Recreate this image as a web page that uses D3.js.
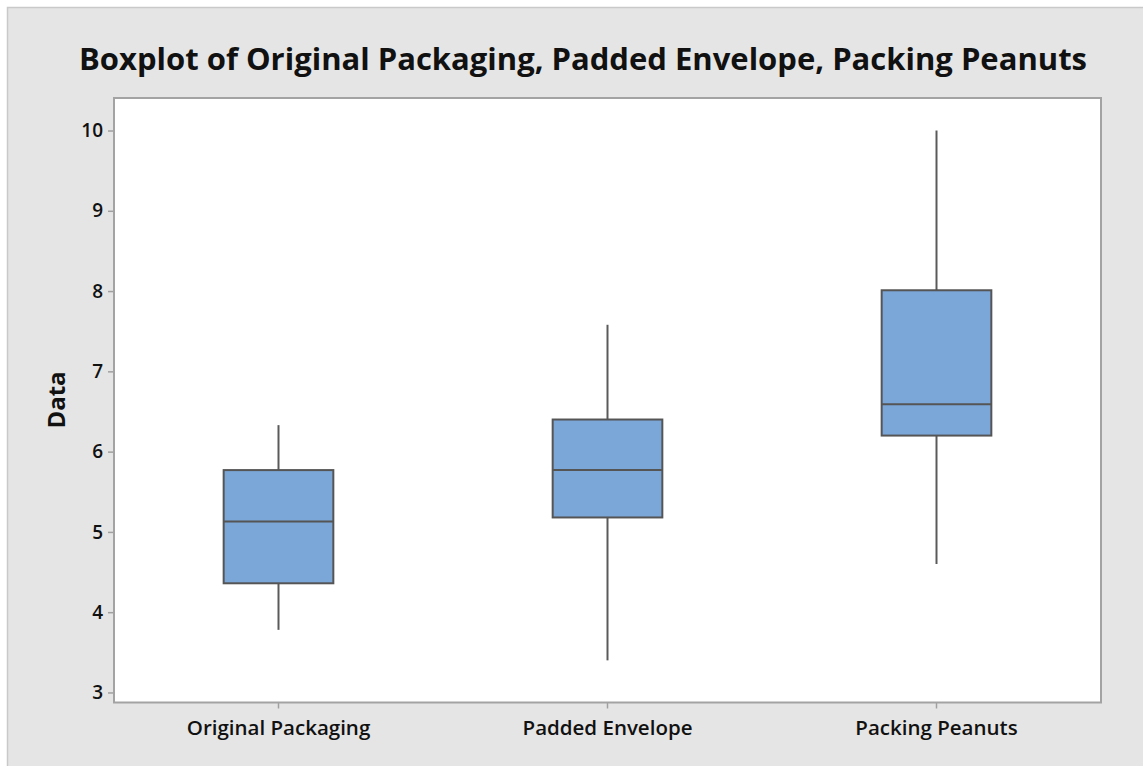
<!DOCTYPE html>
<html><head><meta charset="utf-8">
<script src="https://cdn.jsdelivr.net/npm/d3@7"></script>
<style>
html,body{margin:0;padding:0;background:#fff;}
text{font-family:"Open Sans","Noto Sans",sans-serif;}
</style></head>
<body><svg id="c" width="1143" height="766"></svg>
<script>
const categories = ["Original Packaging", "Padded Envelope", "Packing Peanuts"];
const whiskerLow  = [3.78, 3.40, 4.60];
const q1Values    = [4.36, 5.18, 6.20];
const medians     = [5.13, 5.77, 6.59];
const q3Values    = [5.77, 6.40, 8.01];
const whiskerHigh = [6.33, 7.58, 10.0];
const yTicks      = [3, 4, 5, 6, 7, 8, 9, 10];
const titleText   = "Boxplot of Original Packaging, Padded Envelope, Packing Peanuts";
const yLabel      = "Data";

const data = categories.map((c,i)=>({cat:c, lo:whiskerLow[i], q1:q1Values[i], med:medians[i], q3:q3Values[i], hi:whiskerHigh[i]}));

const svg = d3.select("#c");
// outer frame
svg.append("rect").attr("x",7.5).attr("y",7.5).attr("width",1143).attr("height",766)
  .attr("fill","#e5e5e5").attr("stroke","#c9c9c9").attr("stroke-width",1.5);

const L=114, R=1101, T=98, B=702.5;
svg.append("rect").attr("x",L).attr("y",T).attr("width",R-L).attr("height",B-T).attr("fill","#fff");

const x = d3.scaleBand().domain(categories).range([L,R]);
const y = d3.scaleLinear().domain([2.875, 10.405]).range([B,T]);

const yAxis = svg.append("g").attr("transform",`translate(${L},0)`)
  .call(d3.axisLeft(y).tickValues(yTicks).tickFormat(d3.format("d")).tickSize(6).tickPadding(5));
yAxis.select(".domain").remove();
yAxis.selectAll(".tick line").attr("stroke","#a0a0a0").attr("stroke-width",1.5);
yAxis.selectAll(".tick text").attr("fill","#111").style("font-size","19px").style("font-weight","600")
  .style("font-family","'Open Sans',sans-serif");

const xAxis = svg.append("g").attr("transform",`translate(0,${B})`)
  .call(d3.axisBottom(x).tickSize(6).tickPadding(12));
xAxis.select(".domain").remove();
xAxis.selectAll(".tick line").attr("stroke","#a0a0a0").attr("stroke-width",1.5);
xAxis.selectAll(".tick text").attr("fill","#111").style("font-size","20.5px").style("font-weight","600")
  .style("font-family","'Open Sans',sans-serif");

// plot frame
svg.append("rect").attr("x",L).attr("y",T).attr("width",R-L).attr("height",B-T)
  .attr("fill","none").attr("stroke","#a3a3a3").attr("stroke-width",2);

const bw = x.bandwidth()/3;
const g = svg.append("g").selectAll("g").data(data).join("g")
  .attr("transform",d=>`translate(${x(d.cat)+x.bandwidth()/2},0)`);
g.append("line").attr("x1",0).attr("x2",0).attr("y1",d=>y(d.hi)).attr("y2",d=>y(d.q3))
  .attr("stroke","#5a5a5a").attr("stroke-width",2);
g.append("line").attr("x1",0).attr("x2",0).attr("y1",d=>y(d.q1)).attr("y2",d=>y(d.lo))
  .attr("stroke","#5a5a5a").attr("stroke-width",2);
g.append("rect").attr("x",-bw/2).attr("width",bw).attr("y",d=>y(d.q3)).attr("height",d=>y(d.q1)-y(d.q3))
  .attr("fill","#7ba6d8").attr("stroke","#555").attr("stroke-width",2);
g.append("line").attr("x1",-bw/2).attr("x2",bw/2).attr("y1",d=>y(d.med)).attr("y2",d=>y(d.med))
  .attr("stroke","#555").attr("stroke-width",2);

svg.append("text").attr("x",583).attr("y",70).attr("text-anchor","middle")
  .style("font-size","31px").style("font-weight","700").attr("fill","#111").text(titleText);

svg.append("text").attr("transform","translate(65,400) rotate(-90)").attr("text-anchor","middle")
  .style("font-size","24px").style("font-weight","700").attr("fill","#111").text(yLabel);
</script></body></html>
